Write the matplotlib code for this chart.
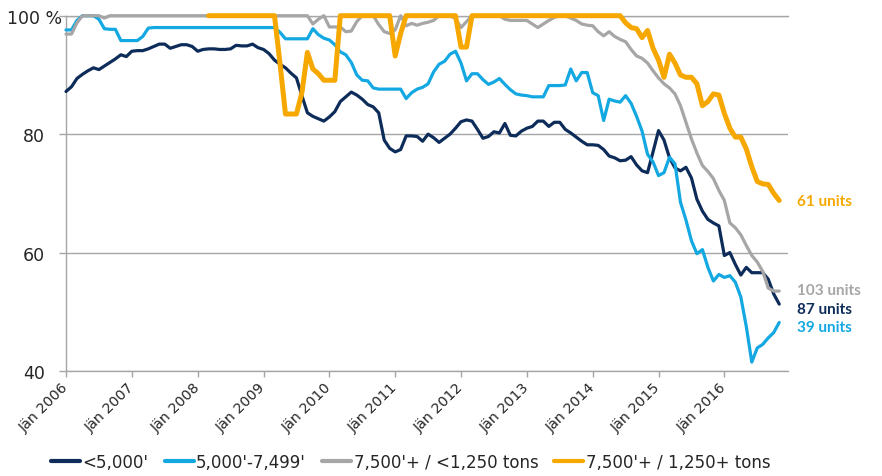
import matplotlib
matplotlib.use("Agg")
import matplotlib.pyplot as plt
from matplotlib.lines import Line2D
from matplotlib.transforms import ScaledTranslation
import numpy as np

# ---------------- data ----------------
year_labels = ["Jän 2006", "Jän 2007", "Jän 2008", "Jän 2009", "Jän 2010", "Jän 2011",
               "Jän 2012", "Jän 2013", "Jän 2014", "Jän 2015", "Jän 2016"]

series_names = ["<5,000'", "5,000'-7,499'", "7,500'+ / <1,250 tons", "7,500'+ / 1,250+ tons"]

under_5000 = [
    87.2, 88.0, 89.4, 90.1, 90.7, 91.2, 90.9, 91.5, 92.1, 92.7, 93.4, 93.1,
    94.0, 94.1, 94.1, 94.4, 94.8, 95.2, 95.2, 94.5, 94.8, 95.1, 95.1, 94.8,
    94.0, 94.3, 94.4, 94.4, 94.3, 94.3, 94.4, 95.0, 94.9, 94.9, 95.2, 94.6,
    94.3, 93.6, 92.5, 91.8, 91.2, 90.3, 89.5, 86.5, 83.6, 83.0, 82.6, 82.2,
    82.9, 83.8, 85.5, 86.3, 87.1, 86.6, 85.9, 85.0, 84.6, 83.6, 79.0, 77.6,
    77.0, 77.4, 79.7, 79.7, 79.6, 78.8, 80.0, 79.4, 78.6, 79.3, 80.0, 81.0,
    82.1, 82.4, 82.2, 80.8, 79.3, 79.6, 80.4, 80.2, 81.8, 79.8, 79.7, 80.5,
    81.0, 81.3, 82.2, 82.2, 81.3, 82.0, 82.0, 80.8, 80.2, 79.5, 78.8, 78.2,
    78.2, 78.1, 77.4, 76.3, 76.0, 75.5, 75.6, 76.2, 74.8, 73.8, 73.5, 77.0,
    80.6, 79.0, 76.0, 74.3, 73.8, 74.4, 72.6, 69.0, 67.0, 65.6, 65.0, 64.5,
    59.5, 60.0, 58.0, 56.2, 57.5, 56.6, 56.6, 56.6, 55.5, 53.0, 51.3,
]

from_5000_7499 = [
    97.6, 97.6, 99.2, 100.0, 100.0, 100.0, 99.4, 97.8, 97.7, 97.7, 95.8, 95.8,
    95.8, 95.8, 96.5, 97.9, 98.0, 98.0, 98.0, 98.0, 98.0, 98.0, 98.0, 98.0,
    98.0, 98.0, 98.0, 98.0, 98.0, 98.0, 98.0, 98.0, 98.0, 98.0, 98.0, 98.0,
    98.0, 98.0, 98.0, 97.2, 96.1, 96.1, 96.1, 96.1, 96.1, 97.8, 96.8, 96.2,
    95.9, 95.1, 93.9, 93.4, 92.1, 90.0, 89.1, 89.0, 87.8, 87.6, 87.6, 87.6,
    87.6, 87.6, 86.0, 87.0, 87.6, 87.9, 88.5, 90.5, 91.8, 92.3, 93.5, 94.0,
    92.0, 89.0, 90.2, 90.2, 89.2, 88.4, 88.8, 89.4, 88.4, 87.5, 86.8, 86.6,
    86.5, 86.3, 86.3, 86.3, 88.2, 88.2, 88.2, 88.3, 91.0, 89.0, 90.4, 90.4,
    87.0, 86.5, 82.3, 85.9, 85.6, 85.4, 86.5, 85.2, 83.0, 80.5, 76.6, 75.3,
    73.0, 73.5, 76.1, 75.0, 68.5, 65.5, 62.0, 59.8, 60.5, 57.5, 55.2, 56.3,
    55.8, 56.1, 55.0, 52.5, 47.5, 41.5, 43.9, 44.5, 45.6, 46.5, 48.2,
]

over_7500_small = [
    96.9, 96.9, 98.8, 100.0, 100.0, 100.0, 100.0, 99.6, 100.0, 100.0, 100.0, 100.0,
    100.0, 100.0, 100.0, 100.0, 100.0, 100.0, 100.0, 100.0, 100.0, 100.0, 100.0, 100.0,
    100.0, 100.0, 100.0, 100.0, 100.0, 100.0, 100.0, 100.0, 100.0, 100.0, 100.0, 100.0,
    100.0, 100.0, 100.0, 100.0, 100.0, 100.0, 100.0, 100.0, 100.0, 98.6, 99.4, 100.0,
    98.1, 98.1, 98.1, 97.3, 97.4, 99.0, 100.0, 100.0, 100.0, 98.5, 97.3, 97.0,
    97.6, 100.0, 98.3, 98.7, 98.4, 98.7, 98.9, 99.2, 100.0, 100.0, 100.0, 99.5,
    98.0, 99.0, 100.0, 100.0, 100.0, 100.0, 100.0, 100.0, 99.4, 99.2, 99.2, 99.2,
    99.2, 98.6, 98.0, 98.6, 99.2, 99.7, 100.0, 100.0, 99.6, 99.2, 98.6, 98.4,
    98.3, 97.3, 96.6, 97.3, 96.5, 96.0, 95.6, 94.3, 93.2, 92.8, 92.0, 90.7,
    89.5, 88.5, 87.8, 86.8, 84.8, 82.0, 79.2, 76.8, 74.7, 73.7, 72.5, 70.5,
    68.8, 65.0, 64.2, 63.0, 61.2, 59.5, 58.4, 56.8, 54.0, 53.5, 53.5,
]

over_7500_large = [
    None, None, None, None, None, None, None, None, None, None, None, None,
    None, None, None, None, None, None, None, None, None, None, None, None,
    None, None, 100.0, 100.0, 100.0, 100.0, 100.0, 100.0, 100.0, 100.0, 100.0, 100.0,
    100.0, 100.0, 100.0, 92.0, 83.4, 83.4, 83.4, 87.0, 93.8, 91.0, 90.2, 89.1,
    89.1, 89.1, 100.0, 100.0, 100.0, 100.0, 100.0, 100.0, 100.0, 100.0, 100.0, 100.0,
    93.2, 97.0, 100.0, 100.0, 100.0, 100.0, 100.0, 100.0, 100.0, 100.0, 100.0, 100.0,
    94.7, 94.7, 100.0, 100.0, 100.0, 100.0, 100.0, 100.0, 100.0, 100.0, 100.0, 100.0,
    100.0, 100.0, 100.0, 100.0, 100.0, 100.0, 100.0, 100.0, 100.0, 100.0, 100.0, 100.0,
    100.0, 100.0, 100.0, 100.0, 100.0, 100.0, 98.8, 98.0, 97.8, 96.3, 97.5, 94.5,
    92.5, 89.6, 93.5, 92.0, 90.0, 89.6, 89.6, 88.5, 84.8, 85.5, 86.8, 86.6,
    83.5, 81.0, 79.5, 79.5, 77.5, 74.5, 72.0, 71.6, 71.5, 70.0, 68.8,
]

end_labels = ["87 units", "39 units", "103 units", "61 units"]

# ---------------- style ----------------
colors = ["#0d2c5a", "#13a8e2", "#a6a6a6", "#f7a800"]
widths = [2.3, 2.3, 2.3, 3.6]
label_y = [50.5, 47.5, 53.6, 68.7]
grid_col = "#a6a6a6"
text_col = "#262626"

fig = plt.figure(figsize=(8.82, 4.77), dpi=100)
ax = fig.add_axes([66 / 882, 1 - 372 / 477, (788 - 66) / 882, (372 - 16.7) / 477])

all_series = [under_5000, from_5000_7499, over_7500_small, over_7500_large]
for i, vals in enumerate(all_series):
    y = np.array([np.nan if v is None else v for v in vals], dtype=float)
    x = np.arange(len(y))
    ax.plot(x, y, color=colors[i], lw=widths[i], zorder=3 + i,
            solid_joinstyle="round", solid_capstyle="round", clip_on=False)
    ax.text(133.2, label_y[i], end_labels[i], color=colors[i], fontsize=11,
            fontweight="bold", family="Lato", va="center", ha="left")

ax.set_xlim(0, 131.6)
ax.set_ylim(40, 100)

ax.set_yticks([40, 60, 80, 100])
ax.set_yticklabels(["40", "60", "80", "100 %"], fontsize=12.5, color=text_col)
ax.set_xticks([12 * k for k in range(len(year_labels))])
ax.set_xticklabels(year_labels, rotation=45, ha="right", va="center",
                   rotation_mode="anchor", fontsize=10.3, color=text_col)

ax.tick_params(axis="y", length=5, width=1, color=grid_col, pad=10)
ax.tick_params(axis="x", length=4, width=1, color=grid_col, pad=6)

ax.yaxis.grid(True, color=grid_col, lw=1)
ax.set_axisbelow(True)
ax.spines["right"].set_visible(False)
for s in ["left", "bottom", "top"]:
    ax.spines[s].set_color(grid_col)
    ax.spines[s].set_linewidth(1)

# shift the "100 %" label to the right as in the reference
lab = ax.get_yticklabels()[-1]
lab.set_transform(lab.get_transform() + ScaledTranslation(17 / 100, 0, fig.dpi_scale_trans))

handles = [Line2D([0], [0], color=c, lw=3, solid_capstyle="round") for c in colors]
fig.legend(handles, series_names, loc="center left", bbox_to_anchor=(51 / 882, 14 / 477),
           ncol=4, frameon=False, fontsize=12, handlelength=1.75, handletextpad=0.15,
           columnspacing=0.95, borderpad=0, borderaxespad=0)
for t in fig.legends[0].get_texts():
    t.set_color(text_col)

fig.savefig("out.png", dpi=100)
